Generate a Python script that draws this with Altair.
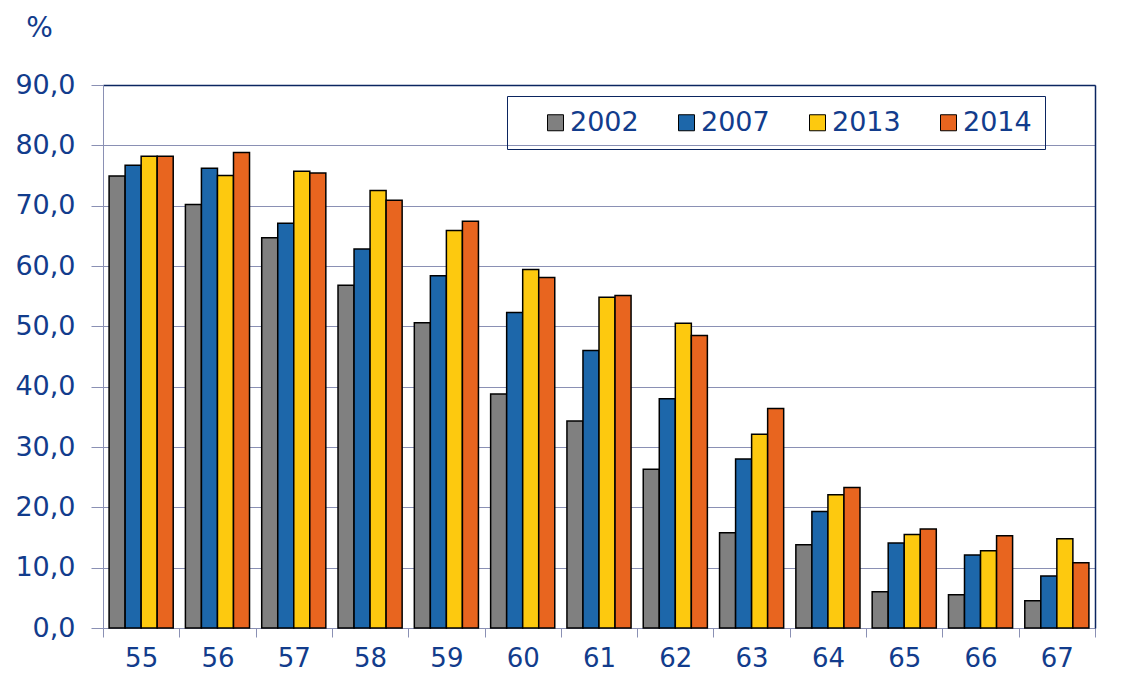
import altair as alt
import pandas as pd

ages = ["55", "56", "57", "58", "59", "60", "61", "62", "63", "64", "65", "66", "67"]
years = ["2002", "2007", "2013", "2014"]
colors = ["#808080", "#1D67AA", "#FDC90F", "#E8651F"]

v2002 = [74.9, 70.2, 64.7, 56.8, 50.6, 38.8, 34.3, 26.3, 15.8, 13.8, 6.0, 5.5, 4.5]
v2007 = [76.7, 76.2, 67.1, 62.8, 58.4, 52.3, 46.0, 38.0, 28.0, 19.3, 14.1, 12.1, 8.6]
v2013 = [78.2, 75.0, 75.7, 72.5, 65.9, 59.4, 54.8, 50.5, 32.1, 22.1, 15.5, 12.8, 14.8]
v2014 = [78.2, 78.8, 75.4, 70.9, 67.4, 58.1, 55.1, 48.5, 36.4, 23.3, 16.4, 15.3, 10.8]

series = dict(zip(years, [v2002, v2007, v2013, v2014]))
rows = []
for y in years:
    for a, v in zip(ages, series[y]):
        rows.append({"age": a, "year": y, "value": v})
df = pd.DataFrame(rows)

TEXT = "#123C8C"
GRID = "#8A90B4"
NAVY = "#0B2560"

base = alt.Chart(df)

bars = base.mark_bar(stroke="black", strokeWidth=1.5).encode(
    x=alt.X("age:N", sort=ages,
            scale=alt.Scale(paddingInner=0, paddingOuter=0),
            axis=alt.Axis(title=None, labelAngle=0, tickBand="extent", grid=False,
                          labelFontSize=26, labelColor=TEXT, labelPadding=8,
                          tickSize=9, tickColor=GRID, domainColor=GRID)),
    xOffset=alt.XOffset("year:N", sort=years,
                        scale=alt.Scale(paddingInner=0, paddingOuter=0.38)),
    y=alt.Y("value:Q",
            scale=alt.Scale(domain=[0, 90], nice=False),
            axis=alt.Axis(values=list(range(0, 91, 10)),
                          labelExpr="replace(format(datum.value, '.1f'), '.', ',')",
                          title="%", titleAngle=0, titleX=-64, titleY=-49,
                          titleAlign="center", titleBaseline="alphabetic",
                          titleFontSize=28, titleFontWeight="normal", titleColor=TEXT,
                          labelFontSize=27, labelColor=TEXT, labelPadding=16,
                          tickSize=12, tickColor=GRID, domainColor=GRID,
                          gridColor=GRID, gridWidth=1)),
    color=alt.Color("year:N", sort=years,
                    scale=alt.Scale(domain=years, range=colors),
                    legend=alt.Legend(title=None, orient="none", legendX=404, legendY=11,
                                      direction="horizontal", columns=4,
                                      symbolType="square", symbolSize=256,
                                      symbolStrokeColor="black", symbolStrokeWidth=1,
                                      symbolOffset=22,
                                      labelFontSize=27, labelColor=TEXT, labelOffset=1,
                                      columnPadding=12, padding=13,
                                      strokeColor=NAVY)),
)

frame = base.mark_bar(opacity=0).encode(
    x=alt.X("age:N", sort=ages,
            scale=alt.Scale(paddingInner=0, paddingOuter=0),
            axis=alt.Axis(orient="top", title=None, labels=False, ticks=False, grid=False,
                          domainColor=NAVY, domainWidth=1.5)),
    y=alt.Y("value:Q",
            scale=alt.Scale(domain=[0, 90], nice=False),
            axis=alt.Axis(orient="right", title=None, labels=False, ticks=False, grid=False,
                          domainColor=NAVY, domainWidth=1.5)),
)

chart = alt.layer(bars, frame).resolve_scale(
    x="independent", y="independent"
).resolve_axis(
    x="independent", y="independent"
).properties(
    width=992, height=543,
    autosize=alt.AutoSizeParams(type="none"),
    padding={"left": 95, "top": 77, "right": 18, "bottom": 48},
).configure(
    font="DejaVu Sans",
).configure_view(
    stroke=None,
)

chart.save("out.html", embed_options={"renderer": "svg", "actions": False})
